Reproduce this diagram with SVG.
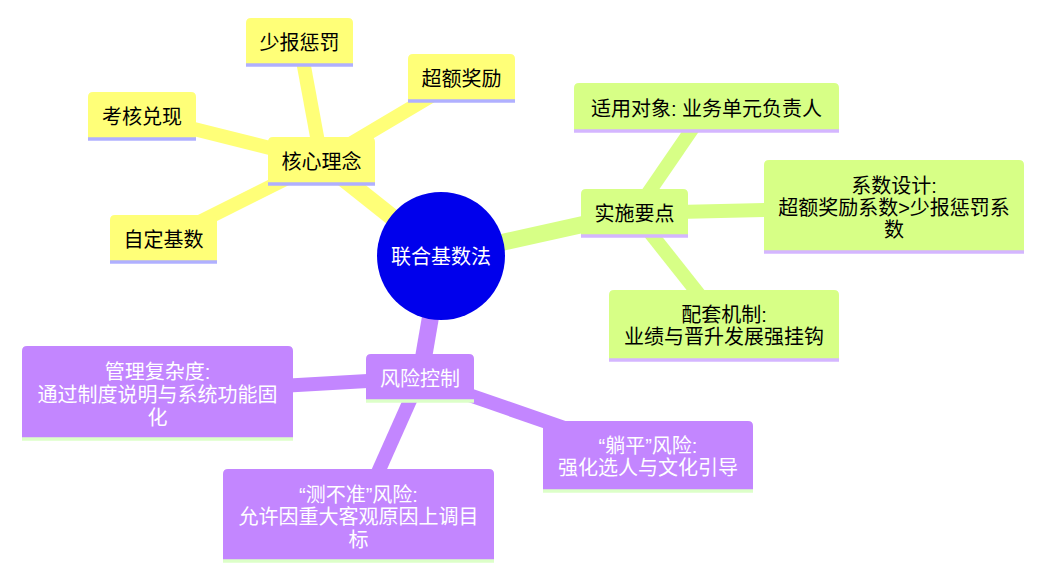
<svg xmlns="http://www.w3.org/2000/svg" width="1062" height="573" viewBox="0 0 1062 573">
<style>
text{font-family:"Liberation Sans","Noto Sans CJK SC",sans-serif;font-size:20px;text-anchor:middle}
.s1 .box{fill:#ffff78}.s1 .ln{stroke:#b0b0ff}.s1 text{fill:#000}
.s2 .box{fill:#d7ff86}.s2 .ln{stroke:#d4b6ff}.s2 text{fill:#000}
.s3 .box{fill:#c386ff}.s3 .ln{stroke:#dcffc8}.s3 text{fill:#fff}
.ln{stroke-width:3.5}
.e{fill:none;stroke-linecap:butt}
.d0{stroke-width:17}.d1{stroke-width:14}
.y{stroke:#ffff78}.g{stroke:#d7ff86}.p{stroke:#c386ff}
</style>
<rect width="1062" height="573" fill="#fff"/>
<g id="connectors">
<line class="e d0 y" x1="441" y1="256" x2="321.5" y2="161"/>
<line class="e d0 g" x1="441" y1="256" x2="634.5" y2="213"/>
<line class="e d0 p" x1="441" y1="256" x2="420" y2="378"/>
<line class="e d1 y" x1="321.5" y1="161" x2="299.5" y2="42"/>
<line class="e d1 y" x1="321.5" y1="161" x2="461.5" y2="78"/>
<line class="e d1 y" x1="321.5" y1="161" x2="142" y2="116"/>
<line class="e d1 y" x1="321.5" y1="161" x2="163.5" y2="240"/>
<line class="e d1 g" x1="634.5" y1="213" x2="706.5" y2="108"/>
<line class="e d1 g" x1="634.5" y1="213" x2="894" y2="207"/>
<line class="e d1 g" x1="634.5" y1="213" x2="724" y2="326"/>
<line class="e d1 p" x1="420" y1="378" x2="157.5" y2="393"/>
<line class="e d1 p" x1="420" y1="378" x2="358.5" y2="516"/>
<line class="e d1 p" x1="420" y1="378" x2="648" y2="457"/>
</g>
<g id="root">
<circle cx="441" cy="256" r="64" fill="#0000ec"/>
<text x="441" y="263.5" fill="#fff">联合基数法</text>
</g>
<g id="n-hexin" class="s1" transform="translate(268,137)">
<path class="box" d="M0,47V5Q0,0 5,0H102Q107,0 107,5V47Z"/>
<line class="ln" x1="0" y1="47" x2="107" y2="47"/>
<text x="53.5" y="32">核心理念</text>
</g>
<g id="n-shaobao" class="s1" transform="translate(246,18)">
<path class="box" d="M0,47V5Q0,0 5,0H102Q107,0 107,5V47Z"/>
<line class="ln" x1="0" y1="47" x2="107" y2="47"/>
<text x="53.5" y="32">少报惩罚</text>
</g>
<g id="n-chaoe" class="s1" transform="translate(408,54)">
<path class="box" d="M0,47V5Q0,0 5,0H102Q107,0 107,5V47Z"/>
<line class="ln" x1="0" y1="47" x2="107" y2="47"/>
<text x="53.5" y="31.5">超额奖励</text>
</g>
<g id="n-kaohe" class="s1" transform="translate(88,92)">
<path class="box" d="M0,47V5Q0,0 5,0H103Q108,0 108,5V47Z"/>
<line class="ln" x1="0" y1="47" x2="108" y2="47"/>
<text x="54" y="32">考核兑现</text>
</g>
<g id="n-ziding" class="s1" transform="translate(110,215)">
<path class="box" d="M0,47V5Q0,0 5,0H102Q107,0 107,5V47Z"/>
<line class="ln" x1="0" y1="47" x2="107" y2="47"/>
<text x="53.5" y="31.5">自定基数</text>
</g>
<g id="n-shishi" class="s2" transform="translate(581,189)">
<path class="box" d="M0,47V5Q0,0 5,0H102Q107,0 107,5V47Z"/>
<line class="ln" x1="0" y1="47" x2="107" y2="47"/>
<text x="53.5" y="31.5">实施要点</text>
</g>
<g id="n-shiyong" class="s2" transform="translate(574,83)">
<path class="box" d="M0,48V5Q0,0 5,0H260Q265,0 265,5V48Z"/>
<line class="ln" x1="0" y1="48" x2="265" y2="48"/>
<text x="132.5" y="32.5">适用对象: 业务单元负责人</text>
</g>
<g id="n-xishu" class="s2" transform="translate(764,160)">
<path class="box" d="M0,92V5Q0,0 5,0H255Q260,0 260,5V92Z"/>
<line class="ln" x1="0" y1="92" x2="260" y2="92"/>
<text x="130" y="32.5">系数设计:</text>
<text x="130" y="55">超额奖励系数&gt;少报惩罚系</text>
<text x="130" y="77">数</text>
</g>
<g id="n-peitao" class="s2" transform="translate(609,290)">
<path class="box" d="M0,70V5Q0,0 5,0H225Q230,0 230,5V70Z"/>
<line class="ln" x1="0" y1="70" x2="230" y2="70"/>
<text x="115" y="32">配套机制:</text>
<text x="115" y="54">业绩与晋升发展强挂钩</text>
</g>
<g id="n-fengxian" class="s3" transform="translate(366,354)">
<path class="box" d="M0,47V5Q0,0 5,0H103Q108,0 108,5V47Z"/>
<line class="ln" x1="0" y1="47" x2="108" y2="47"/>
<text x="54" y="32">风险控制</text>
</g>
<g id="n-guanli" class="s3" transform="translate(22,346)">
<path class="box" d="M0,93V5Q0,0 5,0H266Q271,0 271,5V93Z"/>
<line class="ln" x1="0" y1="93" x2="271" y2="93"/>
<text x="135.5" y="33">管理复杂度:</text>
<text x="135.5" y="56">通过制度说明与系统功能固</text>
<text x="135.5" y="78.5">化</text>
</g>
<g id="n-cebuzhun" class="s3" transform="translate(223,469)">
<path class="box" d="M0,92V5Q0,0 5,0H266Q271,0 271,5V92Z"/>
<line class="ln" x1="0" y1="92" x2="271" y2="92"/>
<text x="135.5" y="32.5">“测不准”风险:</text>
<text x="135.5" y="55">允许因重大客观原因上调目</text>
<text x="135.5" y="77.5">标</text>
</g>
<g id="n-tangping" class="s3" transform="translate(543,421)">
<path class="box" d="M0,70V5Q0,0 5,0H205Q210,0 210,5V70Z"/>
<line class="ln" x1="0" y1="70" x2="210" y2="70"/>
<text x="105" y="31.5">“躺平”风险:</text>
<text x="105" y="53.5">强化选人与文化引导</text>
</g>
</svg>
